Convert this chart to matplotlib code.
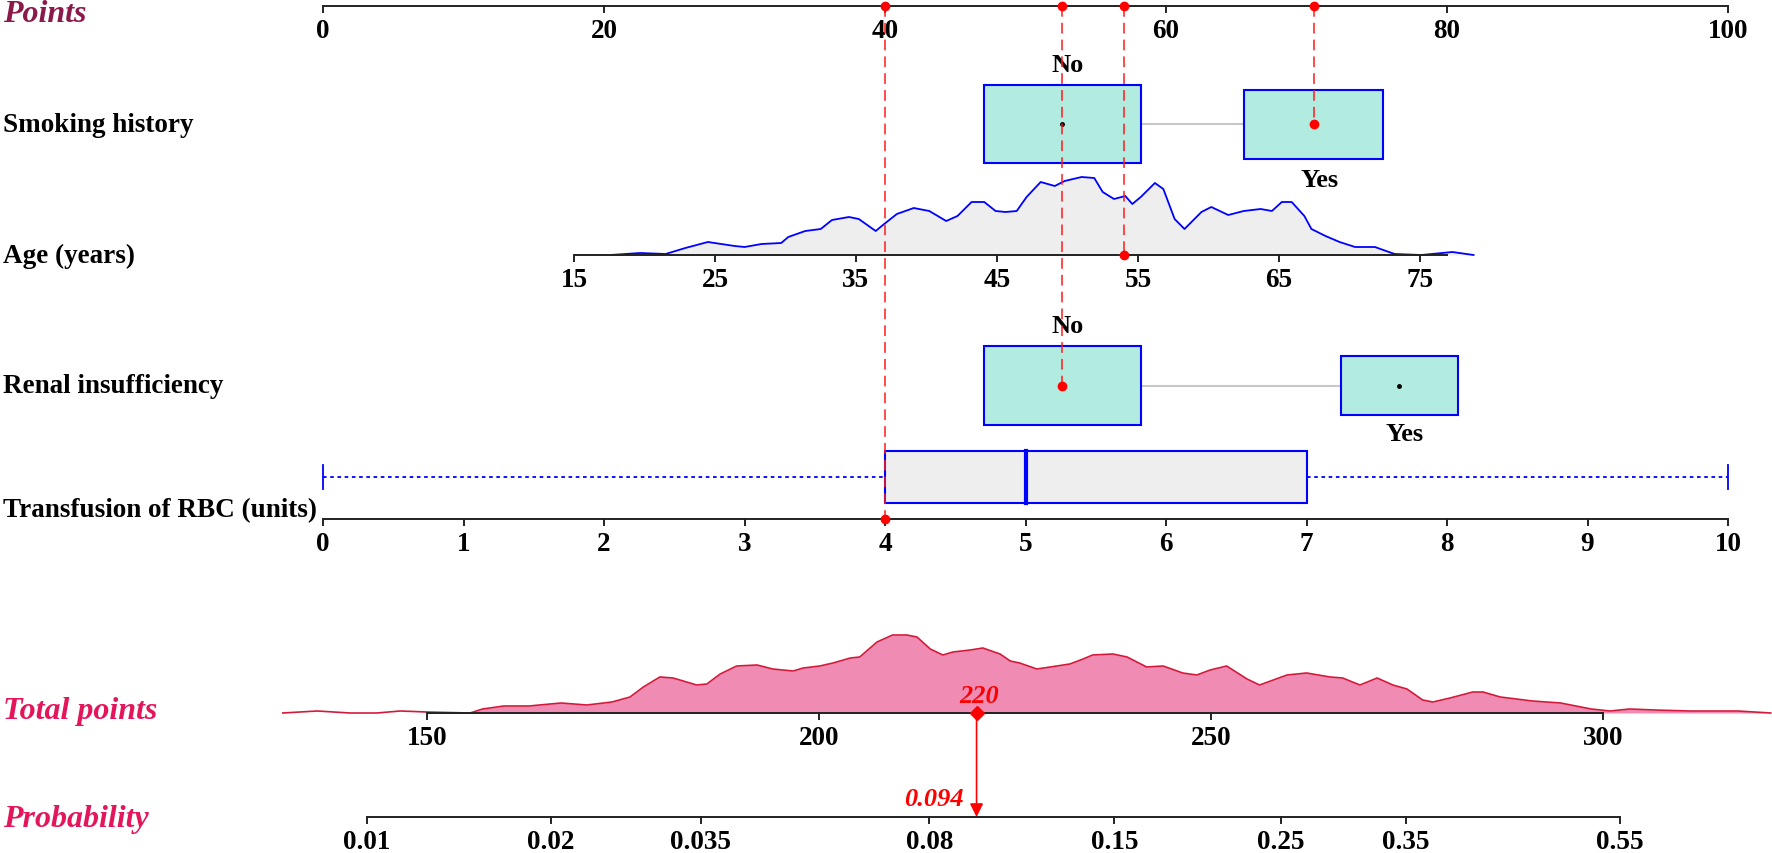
import numpy as np
import matplotlib.pyplot as plt
from matplotlib.patches import Rectangle
from matplotlib.transforms import blended_transform_factory

plt.rcParams['font.family'] = ['Liberation Serif', 'DejaVu Serif']

# ---- values ----
points_ticks = [0, 20, 40, 60, 80, 100]

smoking_levels = ["No", "Yes"]
smoking_points = [52.6, 70.5]

age_ticks = [15, 25, 35, 45, 55, 65, 75]
age_axis_end = 77.0
age_pts_at_15 = 17.86
age_pts_per_year = 1.0036
age_grid = [17.6, 19.7, 21.5, 22.9, 24.5, 26.4, 27.1, 28.3, 29.7, 30.2, 31.4, 32.5,
            33.3, 34.5, 35.2, 36.4, 37.0, 37.9, 39.1, 40.2, 41.4, 42.2, 43.2, 44.1,
            44.9, 45.6, 46.4, 47.1, 48.1, 49.1, 49.8, 51.0, 51.9, 52.5, 53.3, 54.1,
            54.6, 55.2, 56.2, 56.8, 57.6, 58.3, 59.5, 60.2, 61.4, 62.5, 63.7, 64.5,
            65.2, 65.9, 66.8, 67.3, 68.3, 69.3, 70.4, 71.8, 73.2, 75.1, 77.3, 78.8]
age_density = [0, 2, 1, 7, 13, 9, 8, 11, 12, 18, 24, 26,
               35, 38, 36, 24, 31, 41, 47, 44, 34, 39, 53, 53,
               44, 43, 44, 58, 73, 69, 74, 78, 77, 63, 56, 59,
               51, 58, 72, 66, 36, 26, 43, 48, 40, 44, 46, 44,
               53, 53, 39, 26, 19, 13, 8, 8, 1, 0, 3, 0]

renal_levels = ["No", "Yes"]
renal_points = [52.6, 76.6]

rbc_ticks = list(range(11))
rbc_pts_per_unit = 10.0
rbc_box = [0, 4, 5, 7, 10]   # min, q1, median, q3, max

total_ticks = [150, 200, 250, 300]
total_grid = [131.6, 136.0, 140.2, 143.6, 146.6, 150.0, 155.5, 157.1, 159.8, 163.0,
              167.1, 170.4, 173.6, 175.9, 177.6, 179.7, 181.4, 184.4, 185.7, 187.4,
              189.5, 192.1, 194.1, 196.7, 198.0, 200.1, 201.8, 204.0, 205.2, 207.4,
              209.4, 211.2, 212.5, 214.2, 215.8, 217.1, 219.3, 220.9, 223.1, 224.4,
              225.6, 227.8, 229.5, 232.0, 233.7, 234.9, 237.5, 239.3, 241.8, 243.9,
              246.4, 248.2, 249.9, 252.0, 254.6, 256.2, 259.7, 262.2, 265.2, 266.8,
              269.0, 271.2, 273.2, 275.0, 277.0, 278.3, 280.5, 283.4, 284.7, 286.9,
              291.0, 294.6, 298.5, 300.9, 303.4, 306.6, 311.0, 317.2, 321.4]
total_density = [0, 2, 0, 0, 2, 1, 0, 4, 7, 7,
                 10, 8, 11, 16, 26, 36, 35, 28, 29, 39,
                 47, 48, 44, 42, 45, 47, 50, 55, 56, 71,
                 78, 78, 76, 64, 58, 61, 63, 65, 59, 52,
                 50, 44, 46, 49, 54, 58, 59, 56, 46, 47,
                 40, 38, 43, 47, 34, 28, 38, 40, 36, 35,
                 28, 35, 28, 24, 13, 11, 15, 21, 21, 16,
                 12, 10, 4, 2, 4, 3, 2, 2, 0]

prob_ticks = [0.01, 0.02, 0.035, 0.08, 0.15, 0.25, 0.35, 0.55]
logit_intercept = -8.865
logit_slope = 0.0300

# highlighted patient
obs_smoking = "Yes"
obs_age = 54
obs_renal = "No"
obs_rbc = 4


def age_to_pts(a):
    return age_pts_at_15 + (np.asarray(a, dtype=float) - 15) * age_pts_per_year


def prob_to_total(p):
    p = np.asarray(p, dtype=float)
    return (np.log(p / (1 - p)) - logit_intercept) / logit_slope


# ---- layout (pixel rows) ----
W, H = 1772, 854
Y_POINTS, Y_SMOKE, Y_AGE, Y_RENAL, Y_RBC_BOX, Y_RBC = 7, 125, 256, 386.5, 478, 520
Y_TOTAL, Y_PROB = 714, 818
BOX_FILL, BOX_EDGE = '#B2EBE0', '#0000FF'
RED = '#FF1A1A'
TITLE_RED, TITLE_MAROON = '#E3165B', '#8B1A4B'
TICK_FS, LABEL_FS, TITLE_FS, LEVEL_FS = 19.5, 19.5, 23, 19

fig = plt.figure(figsize=(W / 100, H / 100), dpi=100)
# top rows in "points" units, bottom rows in "total points" units
ax = fig.add_axes([0, 0, 1, 1])
ax.set_xlim(-22.99, 103.13)
ax.set_ylim(H, 0)
ax.axis('off')
axb = fig.add_axes([0, 0, 1, 1])
axb.set_xlim(95.54, 321.56)
axb.set_ylim(H, 0)
axb.axis('off')
axb.patch.set_alpha(0)

lab = blended_transform_factory(ax.transAxes, ax.transData)
labb = blended_transform_factory(axb.transAxes, axb.transData)


def draw_axis(a, lo, hi, y, ticks, labels):
    a.plot([lo, hi], [y, y], color='#222222', lw=1.4, zorder=4, solid_capstyle='butt')
    for t, s in zip(ticks, labels):
        a.plot([t, t], [y, y + 6], color='#222222', lw=1.4, zorder=4)
        a.text(t, y + 25, s, ha='center', va='center', fontsize=TICK_FS, fontweight='bold')


def row_label(y, s, **kw):
    ax.text(3 / W, y, s, transform=lab, ha='left', va='center', fontweight='bold', **kw)


# Points
row_label(Y_POINTS + 8, "Points", fontsize=TITLE_FS, style='italic', color=TITLE_MAROON)
draw_axis(ax, 0, 100, Y_POINTS, points_ticks, [str(t) for t in points_ticks])

# Smoking history
row_label(Y_SMOKE, "Smoking history", fontsize=LABEL_FS)
smoke_w = [11.17, 9.9]
smoke_h = [78, 69]
ax.plot([smoking_points[0] + smoke_w[0] / 2, smoking_points[1] - smoke_w[1] / 2],
        [Y_SMOKE, Y_SMOKE], color='#C8C8C8', lw=1.5, zorder=1)
for i, (lvl, p) in enumerate(zip(smoking_levels, smoking_points)):
    ax.add_patch(Rectangle((p - smoke_w[i] / 2, Y_SMOKE - smoke_h[i] / 2), smoke_w[i], smoke_h[i],
                           facecolor=BOX_FILL, edgecolor=BOX_EDGE, lw=1.5, zorder=2))
    ty = Y_SMOKE - smoke_h[i] / 2 - 20 if i == 0 else Y_SMOKE + smoke_h[i] / 2 + 21
    ax.text(p + 0.4, ty, lvl, ha='center', va='center', fontsize=LEVEL_FS, fontweight='bold')
    if lvl != obs_smoking:
        ax.plot(p, Y_SMOKE, 'o', color='black', ms=2.5, zorder=3)

# Age
row_label(Y_AGE, "Age (years)", fontsize=LABEL_FS)
ag = age_to_pts(age_grid)
ay = Y_AGE - np.array(age_density, dtype=float)
ax.fill_between(ag, ay, Y_AGE, color='#EEEEEE', lw=0, zorder=1)
ax.plot(ag, ay, color='#0000FF', lw=1.3, zorder=2)
draw_axis(ax, age_to_pts(15), age_to_pts(age_axis_end), Y_AGE,
          age_to_pts(age_ticks), [str(t) for t in age_ticks])

# Renal insufficiency
row_label(Y_RENAL, "Renal insufficiency", fontsize=LABEL_FS)
renal_w = [11.17, 8.33]
renal_h = [79, 59]
ax.plot([renal_points[0] + renal_w[0] / 2, renal_points[1] - renal_w[1] / 2],
        [Y_RENAL, Y_RENAL], color='#C8C8C8', lw=1.5, zorder=1)
for i, (lvl, p) in enumerate(zip(renal_levels, renal_points)):
    ax.add_patch(Rectangle((p - renal_w[i] / 2, Y_RENAL - renal_h[i] / 2), renal_w[i], renal_h[i],
                           facecolor=BOX_FILL, edgecolor=BOX_EDGE, lw=1.5, zorder=2))
    ty = Y_RENAL - renal_h[i] / 2 - 20 if i == 0 else Y_RENAL + renal_h[i] / 2 + 19
    ax.text(p + 0.4, ty, lvl, ha='center', va='center', fontsize=LEVEL_FS, fontweight='bold')
    if lvl != obs_renal:
        ax.plot(p, Y_RENAL, 'o', color='black', ms=2.5, zorder=3)

# Transfusion of RBC
row_label(Y_RBC - 9, "Transfusion of RBC (units)", fontsize=LABEL_FS)
bx = [v * rbc_pts_per_unit for v in rbc_box]
ax.plot([bx[0], bx[1]], [Y_RBC_BOX] * 2, color=BOX_EDGE, lw=1.3, ls=(0, (2, 2)), zorder=1)
ax.plot([bx[3], bx[4]], [Y_RBC_BOX] * 2, color=BOX_EDGE, lw=1.3, ls=(0, (2, 2)), zorder=1)
for v in (bx[0], bx[4]):
    ax.plot([v, v], [Y_RBC_BOX - 12, Y_RBC_BOX + 12], color=BOX_EDGE, lw=1.3)
ax.add_patch(Rectangle((bx[1], Y_RBC_BOX - 26), bx[3] - bx[1], 52,
                       facecolor='#EEEEEE', edgecolor=BOX_EDGE, lw=1.5, zorder=2))
ax.plot([bx[2], bx[2]], [Y_RBC_BOX - 26, Y_RBC_BOX + 26], color=BOX_EDGE, lw=3, zorder=3)
draw_axis(ax, 0, 10 * rbc_pts_per_unit, Y_RBC,
          [t * rbc_pts_per_unit for t in rbc_ticks], [str(t) for t in rbc_ticks])

# red guide lines for the highlighted patient
obs = [
    (smoking_points[smoking_levels.index(obs_smoking)], Y_SMOKE),
    (float(age_to_pts(obs_age)), Y_AGE),
    (renal_points[renal_levels.index(obs_renal)], Y_RENAL),
    (obs_rbc * rbc_pts_per_unit, Y_RBC),
]
for p, y in obs:
    ax.plot([p, p], [Y_POINTS, y], color=RED, lw=1.1, ls=(0, (7, 4)), zorder=5)
    ax.plot([p, p], [Y_POINTS, y], 'o', color='#FF0000', ms=6, zorder=6)
obs_total = sum(p for p, _ in obs)

# Total points
axb.text(3 / W, Y_TOTAL - 2, "Total points", transform=labb,
         ha='left', va='center', fontsize=TITLE_FS, style='italic', fontweight='bold', color=TITLE_RED)
tg = np.array(total_grid)
ty = Y_TOTAL - np.array(total_density, dtype=float)
axb.fill_between(tg, ty, Y_TOTAL, where=tg >= 150, color='#F08CB4', lw=0, zorder=1)
axb.plot(tg, ty, color='#D41A3C', lw=1.2, zorder=2)
draw_axis(axb, 150, 300, Y_TOTAL, total_ticks, [str(t) for t in total_ticks])

# Probability
axb.text(3 / W, Y_PROB + 2, "Probability", transform=labb,
         ha='left', va='center', fontsize=TITLE_FS, style='italic', fontweight='bold', color=TITLE_RED)
pt = prob_to_total(prob_ticks)
draw_axis(axb, pt[0], pt[-1], Y_PROB, pt, [f"{p:g}" for p in prob_ticks])

# result marker and arrow
obs_prob = 1 / (1 + np.exp(-(logit_intercept + logit_slope * obs_total)))
axb.annotate('', xy=(obs_total, Y_PROB), xytext=(obs_total, Y_TOTAL),
             arrowprops=dict(arrowstyle='-|>', color='#FF0000', lw=1.2, mutation_scale=20,
                             shrinkA=0, shrinkB=0), zorder=6)
axb.plot(obs_total, Y_TOTAL, 'D', color='#FF0000', ms=7, zorder=7)
axb.text(obs_total + 0.3, Y_TOTAL - 17, f"{obs_total:.0f}", ha='center', va='center',
         fontsize=LEVEL_FS, style='italic', fontweight='bold', color='#FF0000')
axb.text(obs_total - 1.6, Y_PROB - 18, f"{obs_prob:.3f}", ha='right', va='center',
         fontsize=LEVEL_FS, style='italic', fontweight='bold', color='#FF0000')

fig.savefig('out.png', dpi=100)
